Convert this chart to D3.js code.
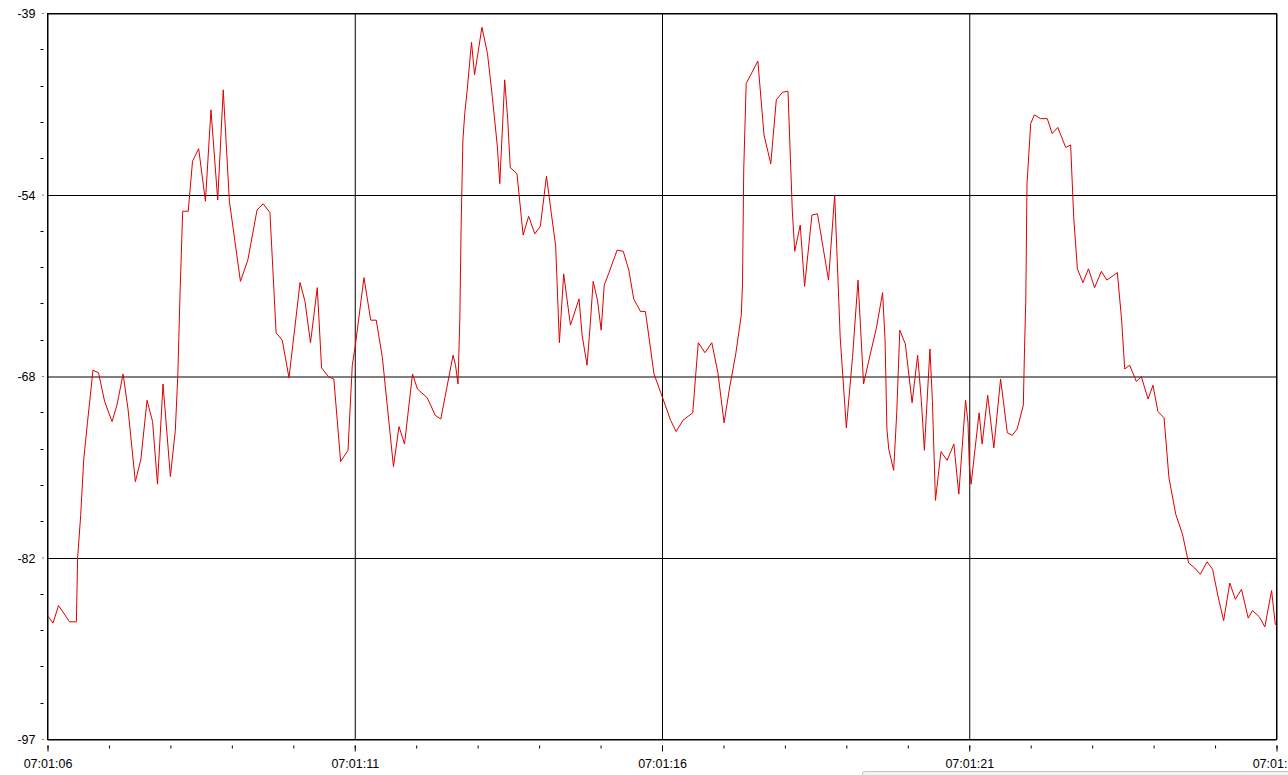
<!DOCTYPE html>
<html>
<head>
<meta charset="utf-8">
<script src="https://cdn.jsdelivr.net/npm/d3@7"></script>
<style>
  html, body { margin: 0; padding: 0; background: #ffffff; overflow: hidden; }
  svg { display: block; }
  .tick text { font-family: 'Liberation Sans', Arial, sans-serif; font-size: 12.5px; fill: #000000; }
</style>
</head>
<body>
<div id="chart"><svg></svg></div>
<script>
// seconds after 07:01:06
const times = [0.00, 0.09, 0.18, 0.36, 0.47, 0.49, 0.54, 0.59, 0.65, 0.74,
  0.83, 0.93, 1.05, 1.13, 1.23, 1.31, 1.43, 1.52, 1.62, 1.71,
  1.79, 1.88, 2.00, 2.08, 2.12, 2.15, 2.16, 2.20, 2.29, 2.36,
  2.46, 2.57, 2.66, 2.77, 2.86, 2.96, 3.14, 3.26, 3.41, 3.51,
  3.62, 3.72, 3.82, 3.93, 4.11, 4.19, 4.28, 4.39, 4.46, 4.57,
  4.66, 4.77, 4.89, 4.96, 5.01, 5.15, 5.26, 5.35, 5.45, 5.63,
  5.72, 5.81, 5.94, 6.02, 6.18, 6.31, 6.40, 6.60, 6.64, 6.68,
  6.71, 6.73, 6.76, 6.79, 6.83, 6.90, 6.95, 7.07, 7.16, 7.24,
  7.32, 7.36, 7.40, 7.44, 7.49, 7.53, 7.64, 7.74, 7.83, 7.93,
  8.02, 8.12, 8.20, 8.27, 8.33, 8.40, 8.51, 8.65, 8.70, 8.78,
  8.83, 8.88, 8.95, 9.01, 9.06, 9.13, 9.27, 9.37, 9.46, 9.54,
  9.65, 9.73, 9.87, 10.01, 10.14, 10.23, 10.34, 10.50, 10.59, 10.70,
  10.81, 10.91, 11.01, 11.10, 11.20, 11.29, 11.31, 11.33, 11.37, 11.56,
  11.66, 11.77, 11.86, 11.96, 12.05, 12.09, 12.12, 12.16, 12.25, 12.32,
  12.44, 12.53, 12.71, 12.81, 12.85, 12.90, 13.00, 13.10, 13.19, 13.28,
  13.39, 13.49, 13.59, 13.63, 13.66, 13.69, 13.77, 13.82, 13.87, 13.96,
  14.07, 14.16, 14.22, 14.27, 14.36, 14.40, 14.45, 14.54, 14.64, 14.75,
  14.83, 14.94, 14.98, 15.00, 15.03, 15.16, 15.21, 15.30, 15.40, 15.51,
  15.62, 15.70, 15.78, 15.88, 15.90, 15.92, 15.94, 16.00, 16.06, 16.16,
  16.27, 16.35, 16.44, 16.57, 16.65, 16.70, 16.76, 16.85, 16.94, 17.04,
  17.15, 17.24, 17.41, 17.48, 17.53, 17.61, 17.72, 17.80, 17.91, 17.99,
  18.07, 18.17, 18.25, 18.36, 18.47, 18.57, 18.67, 18.76, 18.87, 18.96,
  19.05, 19.14, 19.24, 19.33, 19.43, 19.54, 19.61, 19.72, 19.81, 19.92,
  19.98, 20.00]

const values = [-87.1, -87.7, -86.3, -87.6, -87.6, -82.5, -79.1, -74.6, -71.7, -67.5,
  -67.7, -70.0, -71.6, -70.3, -67.8, -70.6, -76.4, -74.6, -69.9, -71.6,
  -76.6, -68.6, -76.0, -72.3, -68.0, -62.6, -60.9, -54.8, -54.8, -50.8,
  -49.8, -54.0, -46.7, -53.9, -45.1, -54.0, -60.4, -58.7, -54.7, -54.2,
  -54.9, -64.5, -65.1, -68.1, -60.5, -62.0, -65.3, -60.9, -67.3, -68.0,
  -68.2, -74.8, -73.9, -67.1, -65.5, -60.1, -63.5, -63.5, -66.5, -75.2,
  -72.0, -73.4, -67.8, -69.0, -69.7, -71.1, -71.4, -66.3, -67.1, -68.6,
  -63.4, -56.3, -49.1, -47.0, -45.1, -41.3, -43.9, -40.1, -42.2, -45.7,
  -49.6, -52.6, -48.5, -44.3, -47.5, -51.3, -51.8, -56.7, -55.2, -56.6,
  -56.0, -52.0, -55.0, -57.6, -65.3, -59.8, -63.9, -61.8, -64.7, -67.1,
  -64.0, -60.4, -61.9, -64.3, -60.7, -59.8, -57.9, -58.0, -59.5, -61.8,
  -62.8, -62.8, -67.8, -69.7, -71.5, -72.4, -71.5, -70.9, -65.3, -66.1,
  -65.3, -67.7, -71.7, -68.9, -66.2, -63.1, -60.6, -51.5, -44.6, -42.8,
  -48.7, -51.0, -45.9, -45.3, -45.2, -50.6, -54.7, -58.0, -55.9, -60.8,
  -55.1, -55.0, -60.3, -53.5, -58.5, -64.9, -72.1, -66.5, -60.3, -68.6,
  -66.2, -64.1, -61.3, -65.1, -72.2, -73.8, -75.5, -70.9, -64.3, -65.4,
  -70.1, -66.3, -69.9, -73.9, -65.8, -69.9, -77.9, -74.0, -74.7, -73.4,
  -77.4, -69.9, -71.7, -75.0, -76.6, -70.9, -73.4, -69.5, -73.7, -68.2,
  -72.5, -72.7, -72.2, -70.3, -65.7, -61.9, -52.6, -47.8, -47.1, -47.4,
  -47.4, -48.6, -48.1, -49.7, -49.5, -55.3, -59.4, -60.5, -59.4, -60.9,
  -59.6, -60.3, -59.7, -63.5, -67.4, -67.1, -68.4, -68.0, -69.8, -68.7,
  -70.8, -71.3, -76.1, -79.0, -80.6, -82.9, -83.3, -83.8, -82.8, -83.4,
  -85.6, -87.5, -84.5, -85.8, -85.0, -87.3, -86.7, -87.2, -88.0, -85.1,
  -87.8, -87.9]

const yTickValues = [-39, -53.5, -68, -82.5, -97]
const yTickLabels = ['-39', '-54', '-68', '-82', '-97']
const yDomain = [-97, -39]
const xMajorSeconds = [0, 5, 10, 15, 20]
const xMinorSeconds = [0, 1, 2, 3, 4, 5, 6, 7, 8, 9, 10, 11, 12, 13, 14, 15, 16, 17, 18, 19, 20]
const startTime = new Date(2000, 0, 1, 7, 1, 6)
const endTime = new Date(2000, 0, 1, 7, 1, 26)

const svgWidth = 1288
const svgHeight = 775
const margin = { top: 13.5, left: 47.5 }
const width = 1229
const height = 726

const toDate = s => new Date(startTime.getTime() + s * 1000)

/**
 * Sets up the canvas and the main group.
 */
function setCanvas () {
  const svg = d3.select('#chart').select('svg')
    .attr('width', svgWidth)
    .attr('height', svgHeight)

  // bit of window chrome in the lower right corner
  svg.append('rect')
    .attr('x', 862.5)
    .attr('y', 771.5)
    .attr('width', 430)
    .attr('height', 10)
    .attr('rx', 2)
    .attr('fill', '#f4f4f4')
    .attr('stroke', '#c4c4c4')

  return svg.append('g')
    .attr('transform', 'translate(' + margin.left + ',' + margin.top + ')')
}

const g = setCanvas()

const x = d3.scaleTime().domain([startTime, endTime]).range([0, width])
const y = d3.scaleLinear().domain(yDomain).range([height, 0])

const points = times.map((t, i) => ({ date: toDate(t), value: values[i] }))

// horizontal grid + y labels
g.append('g')
  .attr('class', 'y axis')
  .call(d3.axisLeft(y)
    .tickValues(yTickValues)
    .tickFormat((d, i) => yTickLabels[i])
    .tickSize(-width)
    .tickPadding(12))
  .call(s => s.select('.domain').remove())
  .call(s => s.selectAll('.tick line').attr('stroke', '#000000'))

// y minor ticks
const yMinor = []
for (let i = 0; i < yTickValues.length - 1; i++) {
  const step = (yTickValues[i + 1] - yTickValues[i]) / 5
  for (let k = 1; k < 5; k++) yMinor.push(yTickValues[i] + step * k)
}
g.append('g')
  .attr('class', 'y minor')
  .selectAll('line')
  .data(yMinor)
  .join('line')
  .attr('x1', -7)
  .attr('x2', -4)
  .attr('y1', d => Math.round(y(d)))
  .attr('y2', d => Math.round(y(d)))
  .attr('stroke', '#000000')

g.append('g')
  .attr('class', 'y major-dot')
  .selectAll('line')
  .data(yTickValues)
  .join('line')
  .attr('x1', -5)
  .attr('x2', -4)
  .attr('y1', d => y(d))
  .attr('y2', d => y(d))
  .attr('stroke', '#000000')

// vertical grid
g.append('g')
  .attr('class', 'x grid')
  .attr('transform', 'translate(0,' + height + ')')
  .call(d3.axisBottom(x)
    .tickValues(xMajorSeconds.map(toDate))
    .tickFormat('')
    .tickSize(-height))
  .call(s => s.select('.domain').remove())
  .call(s => s.selectAll('.tick line').attr('stroke', '#000000'))

// x ticks and labels under the plot
g.append('g')
  .attr('class', 'x axis')
  .attr('transform', 'translate(0,' + (height + 6) + ')')
  .call(d3.axisBottom(x)
    .tickValues(xMajorSeconds.map(toDate))
    .tickFormat(d3.timeFormat('%H:%M:%S'))
    .tickSize(6)
    .tickPadding(8))
  .call(s => s.select('.domain').remove())
  .call(s => s.selectAll('.tick line').attr('stroke', '#000000'))

g.append('g')
  .attr('class', 'x minor')
  .attr('transform', 'translate(0,' + (height + 6) + ')')
  .call(d3.axisBottom(x)
    .tickValues(xMinorSeconds.map(toDate))
    .tickFormat('')
    .tickSize(3))
  .call(s => s.select('.domain').remove())
  .call(s => s.selectAll('.tick line').attr('stroke', '#000000'))

// frame
g.append('rect')
  .attr('width', width)
  .attr('height', height)
  .attr('fill', 'none')
  .attr('stroke', '#000000')

// signal line
const line = d3.line()
  .x(d => x(d.date))
  .y(d => y(d.value))

g.append('path')
  .datum(points)
  .attr('d', line)
  .attr('fill', 'none')
  .attr('stroke', '#dd0000')
  .attr('stroke-width', 1)
</script>
</body>
</html>
